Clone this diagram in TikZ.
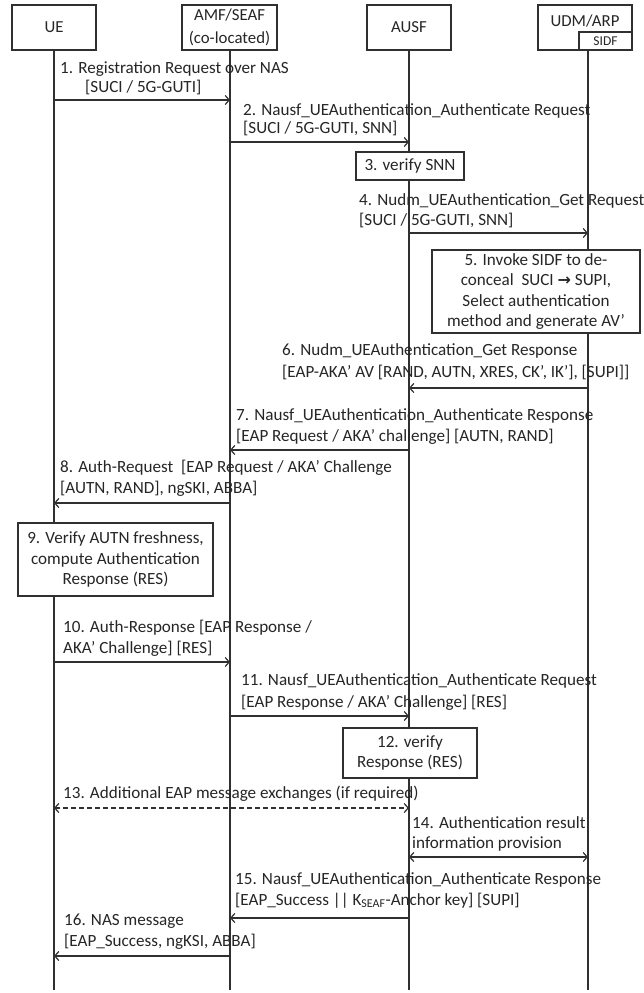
\documentclass[tikz,border=0pt]{standalone}
\usepackage{fontspec}
\setmainfont{Carlito}
\newfontfamily\arrowfont{DejaVu Sans}
\usetikzlibrary{arrows.meta}
\definecolor{ink}{HTML}{262626}
\definecolor{linec}{HTML}{303030}
\tikzset{
  lbl/.style={anchor=base west, inner sep=0pt, text=ink, font=\fontsize{17.1}{20}\selectfont},
  hdrbox/.style={draw=linec, line width=1.3pt, text=ink, font=\fontsize{16.8}{22}\selectfont, align=center, inner sep=0pt},
  hdrtxt/.style={text=ink, font=\fontsize{16.8}{22}\selectfont, align=center, inner sep=0pt},
  procbox/.style={draw=linec, line width=1.3pt, fill=white, text=ink, font=\fontsize{17.1}{20.3}\selectfont, align=center, inner sep=0pt},
  life/.style={draw=linec, line width=1.4pt},
  msg/.style={draw=linec, line width=1.6pt, -{Straight Barb[length=4pt,width=9pt,line width=1.2pt]}},
  bimsg/.style={draw=linec, line width=1.6pt, {Straight Barb[length=4pt,width=9pt,line width=1.2pt]}-{Straight Barb[length=4pt,width=9pt,line width=1.2pt]}},
}
\begin{document}
\begin{tikzpicture}[x=1pt,y=-1pt]
\fill[white] (0,0) rectangle (643,993);
\useasboundingbox (0,0) rectangle (643,993);

% headers
\node[hdrbox, minimum width=84pt, minimum height=45pt] (ue) at (54,27.5) {UE};
\node[hdrbox, minimum width=95pt, minimum height=45pt] (amf) at (229.5,27.5) {AMF/SEAF\\[1pt](co-located)};
\node[hdrbox, minimum width=84pt, minimum height=45pt] (ausf) at (409,27.5) {AUSF};
\node[hdrbox, minimum width=94pt, minimum height=45pt] (udm) at (585,27.5) {};
\node[hdrtxt] (udmtxt) at (585,21) {UDM/ARP};
\node[hdrbox, minimum width=53pt, minimum height=18pt, font=\fontsize{13.5}{15}\selectfont] (sidf) at (605.5,41) {SIDF};

% lifeline ends
\coordinate (uetop) at (54,50);
\coordinate (amftop) at (230,50);
\coordinate (ausftop) at (409,50);
\coordinate (udmtop) at (588,50);
\coordinate (ueend) at (54,990);
\coordinate (amfend) at (230,990);
\coordinate (ausfend) at (409,990);
\coordinate (udmend) at (588,990);
\draw[life] (uetop) -- (ueend);
\draw[life] (amftop) -- (amfend);
\draw[life] (ausftop) -- (ausfend);
\draw[life] (udmtop) -- (udmend);

% message end points
\coordinate (m1a) at (54,100);   \coordinate (m1b) at (230,100);
\coordinate (m2a) at (230,142);  \coordinate (m2b) at (409,142);
\coordinate (m4a) at (409,233);  \coordinate (m4b) at (588,233);
\coordinate (m6a) at (588,388);  \coordinate (m6b) at (409,388);
\coordinate (m7a) at (409,450);  \coordinate (m7b) at (230,450);
\coordinate (m8a) at (230,503);  \coordinate (m8b) at (54,503);
\coordinate (m10a) at (54,662);  \coordinate (m10b) at (230,662);
\coordinate (m11a) at (230,716); \coordinate (m11b) at (409,716);
\coordinate (m13a) at (54,808);  \coordinate (m13b) at (409,808);
\coordinate (m14a) at (409,857); \coordinate (m14b) at (588,857);
\coordinate (m15a) at (409,918); \coordinate (m15b) at (230,918);
\coordinate (m16a) at (230,956); \coordinate (m16b) at (54,956);

\draw[msg] (m1a) -- (m1b);
\draw[msg] (m2a) -- (m2b);
\draw[msg] (m4a) -- (m4b);
\draw[msg] (m6a) -- (m6b);
\draw[msg] (m7a) -- (m7b);
\draw[msg] (m8a) -- (m8b);
\draw[msg] (m10a) -- (m10b);
\draw[msg] (m11a) -- (m11b);
\draw[bimsg, dash pattern=on 5pt off 3pt] (m13a) -- (m13b);
\draw[bimsg] (m14a) -- (m14b);
\draw[msg] (m15a) -- (m15b);
\draw[msg] (m16a) -- (m16b);

% process boxes
\node[procbox, minimum width=108pt, minimum height=28pt] (b3) at (410,166) {3. verify SNN};
\node[procbox, minimum width=208pt, minimum height=83pt] (b5) at (536,291.5) {5. Invoke SIDF to de-\\conceal\ \ SUCI {\arrowfont\bfseries\fontsize{16}{20}\selectfont →} SUPI,\\Select authentication\\method and generate AV’};
\node[procbox, minimum width=195pt, minimum height=73pt] (b9) at (115.5,559.5) {9. Verify AUTN freshness,\\compute Authentication\\Response (RES)};
\node[procbox, minimum width=134pt, minimum height=50pt] (b12) at (410,753) {12. verify\\Response (RES)};

% labels
\node[lbl] (t1a) at (60,73) {1. Registration Request over NAS};
\node[lbl] (t1b) at (85,92) {[SUCI / 5G-GUTI]};
\node[lbl] (t2a) at (243,115) {2. Nausf\_UEAuthentication\_Authenticate Request};
\node[lbl] (t2b) at (243,133) {[SUCI / 5G-GUTI, SNN]};
\node[lbl] (t4a) at (359,205) {4. Nudm\_UEAuthentication\_Get Request};
\node[lbl] (t4b) at (359,225) {[SUCI / 5G-GUTI, SNN]};
\node[lbl] (t6a) at (282,355) {6. Nudm\_UEAuthentication\_Get Response};
\node[lbl] (t6b) at (282,377) {[EAP-AKA’ AV [RAND, AUTN, XRES, CK’, IK’], [SUPI]]};
\node[lbl] (t7a) at (236,420) {7. Nausf\_UEAuthentication\_Authenticate Response};
\node[lbl] (t7b) at (236,441) {[EAP Request / AKA’ challenge] [AUTN, RAND]};
\node[lbl] (t8a) at (60,472) {8. Auth-Request\ \ [EAP Request / AKA’ Challenge};
\node[lbl] (t8b) at (60,493) {[AUTN, RAND], ngSKI, ABBA]};
\node[lbl] (t10a) at (63,632) {10. Auth-Response [EAP Response /};
\node[lbl] (t10b) at (63,653) {AKA’ Challenge] [RES]};
\node[lbl] (t11a) at (241,685) {11. Nausf\_UEAuthentication\_Authenticate Request};
\node[lbl] (t11b) at (241,707) {[EAP Response / AKA’ Challenge] [RES]};
\node[lbl] (t13) at (63,798) {13. Additional EAP message exchanges (if required)};
\node[lbl] (t14a) at (412,828) {14. Authentication result};
\node[lbl] (t14b) at (412,848) {information provision};
\node[lbl] (t15a) at (235,884) {15. Nausf\_UEAuthentication\_Authenticate Response};
\node[lbl] (t15b) at (235,905) {[EAP\_Success || K\textsubscript{SEAF}-Anchor key] [SUPI]};
\node[lbl] (t16a) at (64,925) {16. NAS message};
\node[lbl] (t16b) at (64,946) {[EAP\_Success, ngKSI, ABBA]};
\end{tikzpicture}
\end{document}
